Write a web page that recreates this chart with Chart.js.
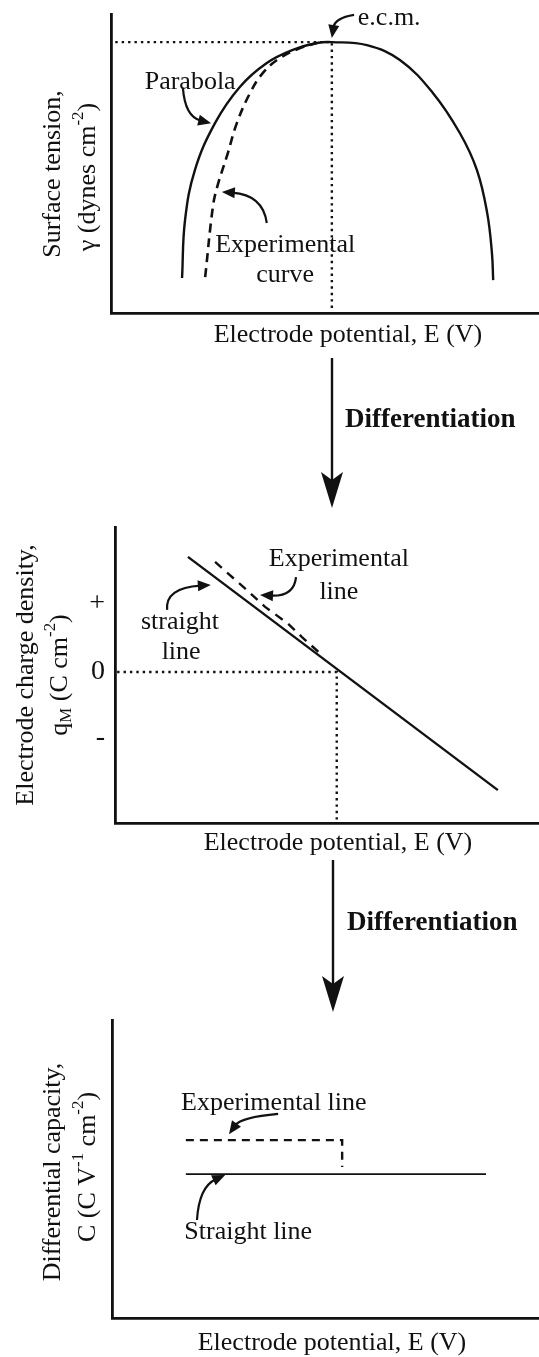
<!DOCTYPE html>
<html>
<head>
<meta charset="utf-8">
<script src="https://cdn.jsdelivr.net/npm/chart.js@4.4.0/dist/chart.umd.min.js"></script>
<style>
html, body { margin: 0; padding: 0; background: #fff; }
#page { position: relative; width: 539px; height: 1357px; overflow: hidden; }
canvas { position: absolute; left: 0; }
</style>
</head>
<body>
<div id="page">
  <canvas id="chart1" width="539" height="520" style="top:0"></canvas>
  <canvas id="chart2" width="539" height="495" style="top:520px"></canvas>
  <canvas id="chart3" width="539" height="342" style="top:1015px"></canvas>
</div>
<script>
// panel 1: surface tension vs potential (electrocapillary curve)
const parabolaE     = [16.6, 17.3, 19.6, 24.3, 30.1, 36.4, 42.5, 48.1, 51.6, 59.8, 67.5, 75.2, 81.5, 85.5, 87.9, 89.0, 89.3];
const parabolaGamma = [11.7, 31.1, 47.8, 63.5, 75.6, 83.6, 88.0, 90.3, 90.6, 89.6, 84.6, 73.6, 60.2, 47.8, 33.4, 20.1, 11.0];
const expCurveE     = [22.0, 23.8, 24.8, 27.3, 29.4, 32.5, 35.5, 39.5, 44.2, 48.1];
const expCurveGamma = [12.0, 35.5, 42.1, 53.5, 63.5, 73.6, 80.3, 85.3, 88.6, 90.3];
const ecmE = 51.6;
const ecmGamma = 90.6;

// panel 2: charge density vs potential
const straightE = [17.2, 90.3];
const straightQ = [38.9, -39.9];
const expLineE  = [23.6, 31.1, 35.4, 40.6, 44.1, 48.3];
const expLineQ  = [37.2, 27.7, 22.0, 16.6, 11.8, 6.4];
const pzcE = 52.3;
const chargeTickValues = [23, 0, -22];
const chargeTickLabels = ['+', '0', '-'];

// panel 3: differential capacity vs potential
const capStraightE = [17.3, 87.6];
const capStraightC = [48.3, 48.3];
const capExpE = [17.3, 53.9, 53.9];
const capExpC = [59.7, 59.7, 50.7];

const INK = '#111';
const SERIF = '"Liberation Serif", "DejaVu Serif", serif';
const FS = 26;

function pts(xs, ys) {
    return xs.map((x, i) => ({ x: x, y: ys[i] }));
}

function lineSet(data, width, dash, smooth) {
    return {
        data: data,
        showLine: true,
        borderColor: INK,
        borderWidth: width,
        borderDash: dash || [],
        pointRadius: 0,
        fill: false,
        tension: smooth ? 0.4 : 0
    };
}

// text with ^{sup} and _{sub} parts, centred on (0,0)
function drawRich(ctx, str, size, weight) {
    const parts = str.split(/(\^\{[^}]*\}|_\{[^}]*\})/).filter(s => s.length);
    const segs = parts.map(p => {
        if (p.startsWith('^{')) return { t: p.slice(2, -1), dy: -size * 0.35, s: size * 0.65 };
        if (p.startsWith('_{')) return { t: p.slice(2, -1), dy: size * 0.25, s: size * 0.65 };
        return { t: p, dy: 0, s: size };
    });
    let w = 0;
    segs.forEach(g => { ctx.font = `${weight || ''} ${g.s}px ${SERIF}`; g.w = ctx.measureText(g.t).width; w += g.w; });
    let x = -w / 2;
    ctx.textAlign = 'left';
    ctx.textBaseline = 'middle';
    segs.forEach(g => {
        ctx.font = `${weight || ''} ${g.s}px ${SERIF}`;
        ctx.fillText(g.t, x, g.dy);
        x += g.w;
    });
}

function curvedArrow(ctx, x0, y0, cx, cy, x1, y1) {
    const ang = Math.atan2(y1 - cy, x1 - cx);
    const len = 13, half = 5.5;
    const bx = x1 - Math.cos(ang) * len * 0.8, by = y1 - Math.sin(ang) * len * 0.8;
    ctx.lineWidth = 2.2;
    ctx.setLineDash([]);
    ctx.beginPath();
    ctx.moveTo(x0, y0);
    ctx.quadraticCurveTo(cx, cy, bx, by);
    ctx.stroke();
    ctx.beginPath();
    ctx.moveTo(x1, y1);
    ctx.lineTo(x1 - Math.cos(ang) * len + Math.sin(ang) * half, y1 - Math.sin(ang) * len - Math.cos(ang) * half);
    ctx.lineTo(x1 - Math.cos(ang) * len - Math.sin(ang) * half, y1 - Math.sin(ang) * len + Math.cos(ang) * half);
    ctx.closePath();
    ctx.fill();
}

// labels, pointers, axis titles and the "Differentiation" arrows
const decorPlugin = {
    id: 'decor',
    afterDraw(chart, args, o) {
        const ctx = chart.ctx;
        const px = v => chart.scales.x.getPixelForValue(v);
        const py = v => chart.scales.y.getPixelForValue(v);
        ctx.save();
        ctx.fillStyle = INK;
        ctx.strokeStyle = INK;

        (o.notes || []).forEach(n => {
            ctx.save();
            ctx.translate(px(n.at[0]), py(n.at[1]));
            drawRich(ctx, n.text, FS);
            ctx.restore();
        });
        (o.pointers || []).forEach(p => {
            curvedArrow(ctx, px(p.from[0]), py(p.from[1]), px(p.ctrl[0]), py(p.ctrl[1]), px(p.to[0]), py(p.to[1]));
        });

        (o.yTitle || []).forEach(t => {
            ctx.save();
            ctx.translate(t.x, t.y);
            ctx.rotate(-Math.PI / 2);
            drawRich(ctx, t.text, FS);
            ctx.restore();
        });
        if (o.xTitle) {
            ctx.save();
            ctx.translate(o.xTitle.x, o.xTitle.y);
            drawRich(ctx, o.xTitle.text, FS);
            ctx.restore();
        }

        if (o.flow) {
            const f = o.flow;
            ctx.lineWidth = 2.4;
            ctx.beginPath();
            ctx.moveTo(f.x, f.y1);
            ctx.lineTo(f.x, f.y2 - 20);
            ctx.stroke();
            ctx.beginPath();
            ctx.moveTo(f.x, f.y2);
            ctx.lineTo(f.x - 11, f.y2 - 36);
            ctx.lineTo(f.x, f.y2 - 28);
            ctx.lineTo(f.x + 11, f.y2 - 36);
            ctx.closePath();
            ctx.fill();
            ctx.font = `bold 27px ${SERIF}`;
            ctx.textAlign = 'left';
            ctx.textBaseline = 'middle';
            ctx.fillText(f.label, f.lx, f.ly);
        }
        ctx.restore();
    }
};

function axisOpts(min, max, fit, isY) {
    return {
        type: 'linear',
        min: min,
        max: max,
        grid: { display: false, drawTicks: false },
        border: { display: true, color: INK, width: 2.8 },
        ticks: { display: false },
        afterFit(s) {
            if (isY) s.width = fit; else s.height = fit;
            s.paddingTop = 0; s.paddingBottom = 0; s.paddingLeft = 0; s.paddingRight = 0;
        }
    };
}

function baseOptions(padTop, xFit, yFit, yMin, yMax, decor) {
    return {
        responsive: false,
        animation: false,
        events: [],
        layout: { padding: { top: padTop, left: 0, right: 0, bottom: 0 } },
        scales: {
            x: axisOpts(0, 100, xFit, false),
            y: axisOpts(yMin, yMax, yFit, true)
        },
        plugins: { legend: { display: false }, tooltip: { enabled: false }, decor: decor }
    };
}

// chart 1
const opts1 = baseOptions(14, 207, 111, 0, 100, {
    notes: [
        { text: 'Parabola', at: [18.5, 77.3] },
        { text: 'e.c.m.', at: [65.0, 98.7] },
        { text: 'Experimental', at: [40.7, 22.7] },
        { text: 'curve', at: [40.7, 12.7] }
    ],
    pointers: [
        { from: [16.8, 75.3], ctrl: [17.3, 65.6], to: [23.4, 63.5] },
        { from: [56.8, 99.7], ctrl: [52.3, 98.7], to: [51.6, 92.0] },
        { from: [36.4, 30.1], ctrl: [35.5, 39.5], to: [25.9, 40.5] }
    ],
    yTitle: [
        { text: 'Surface tension,', x: 53, y: 174 },
        { text: 'γ (dynes cm^{-2})', x: 88, y: 177 }
    ],
    xTitle: { text: 'Electrode potential, E (V)', x: 348, y: 335 },
    flow: { x: 332, y1: 358, y2: 508, label: 'Differentiation', lx: 345, ly: 420 }
});
new Chart(document.getElementById('chart1'), {
    type: 'scatter',
    data: {
        datasets: [
            lineSet(pts([1, ecmE, ecmE], [ecmGamma, ecmGamma, 0]), 2.4, [2.4, 4], false),
            lineSet(pts(expCurveE, expCurveGamma), 2.6, [9, 6], true),
            lineSet(pts(parabolaE, parabolaGamma), 2.4, [], true)
        ]
    },
    options: opts1,
    plugins: [decorPlugin]
});

// chart 2
const opts2 = baseOptions(7, 192, 115, -51, 49, {
    notes: [
        { text: 'Experimental', at: [52.8, 38.2] },
        { text: 'line', at: [52.8, 27.0] },
        { text: 'straight', at: [15.3, 16.9] },
        { text: 'line', at: [15.6, 6.8] }
    ],
    pointers: [
        { from: [42.7, 32.1], ctrl: [42.2, 25.4], to: [34.2, 26.0] },
        { from: [12.3, 21.0], ctrl: [11.8, 28.4], to: [22.6, 29.4] }
    ],
    yTitle: [
        { text: 'Electrode charge density,', x: 26, y: 155 },
        { text: 'q_{M} (C cm^{-2})', x: 60, y: 155 }
    ],
    xTitle: { text: 'Electrode potential, E (V)', x: 338, y: 323 },
    flow: { x: 333, y1: 340, y2: 492, label: 'Differentiation', lx: 347, ly: 403 }
});
opts2.scales.y.ticks = {
    display: true,
    color: INK,
    padding: 10,
    font: { family: SERIF, size: 28 },
    callback: v => chargeTickLabels[chargeTickValues.indexOf(v)]
};
opts2.scales.y.afterBuildTicks = s => { s.ticks = chargeTickValues.map(v => ({ value: v })); };
new Chart(document.getElementById('chart2'), {
    type: 'scatter',
    data: {
        datasets: [
            lineSet(pts([0.5, pzcE, pzcE], [0, 0, -51]), 2.4, [2.4, 4], false),
            lineSet(pts(expLineE, expLineQ), 2.4, [9, 7], false),
            lineSet(pts(straightE, straightQ), 2.4, [], false)
        ]
    },
    options: opts2,
    plugins: [decorPlugin]
});

// chart 3
const opts3 = baseOptions(5, 39, 112, 0, 100, {
    notes: [
        { text: 'Experimental line', at: [37.9, 72.1] },
        { text: 'Straight line', at: [31.9, 28.9] }
    ],
    pointers: [
        { from: [38.9, 68.5], ctrl: [30.2, 67.4], to: [27.4, 61.7] },
        { from: [19.9, 32.9], ctrl: [20.4, 44.0], to: [26.5, 48.0] }
    ],
    yTitle: [
        { text: 'Differential capacity,', x: 53, y: 157 },
        { text: 'C (C V^{-1} cm^{-2})', x: 88, y: 152 }
    ],
    xTitle: { text: 'Electrode potential, E (V)', x: 332, y: 328 }
});
new Chart(document.getElementById('chart3'), {
    type: 'scatter',
    data: {
        datasets: [
            lineSet(pts(capExpE, capExpC), 2.4, [8, 6], false),
            lineSet(pts(capStraightE, capStraightC), 1.8, [], false)
        ]
    },
    options: opts3,
    plugins: [decorPlugin]
});
</script>
</body>
</html>
